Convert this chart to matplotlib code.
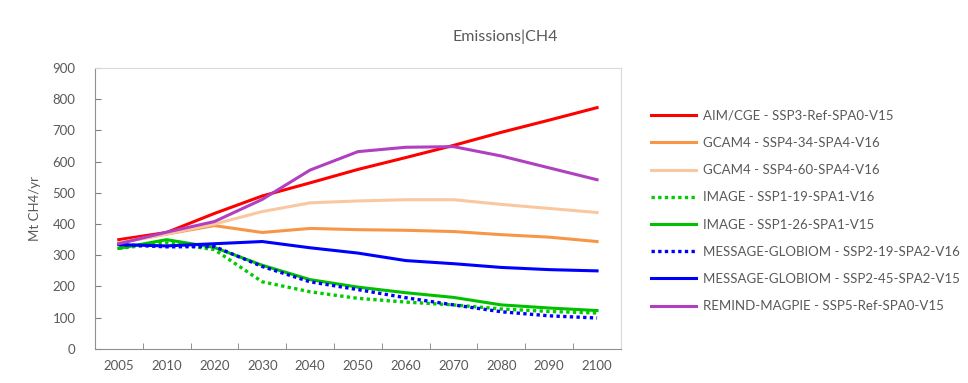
import numpy as np
import matplotlib.pyplot as plt

plt.rcParams['font.family'] = ['Lato', 'DejaVu Sans']

# 年份（类别轴）
years = ['2005', '2010', '2020', '2030', '2040', '2050', '2060', '2070', '2080', '2090', '2100']

aim_ssp3 = [350, 373, 434, 490, 532, 575, 613, 652, 694, 733, 773]
gcam_ssp4_34 = [340, 368, 395, 373, 386, 382, 380, 376, 366, 358, 344]
gcam_ssp4_60 = [340, 368, 400, 440, 468, 474, 478, 478, 463, 450, 437]
image_ssp1_19 = [322, 340, 318, 215, 183, 162, 150, 141, 128, 120, 115]
image_ssp1_26 = [322, 350, 325, 268, 222, 198, 180, 165, 141, 131, 123]
message_ssp2_19 = [334, 327, 328, 264, 215, 190, 164, 141, 119, 106, 99]
message_ssp2_45 = [334, 330, 337, 344, 324, 307, 283, 273, 261, 254, 250]
remind_ssp5 = [337, 374, 408, 479, 573, 632, 646, 648, 618, 580, 542]

series = [
    ('AIM/CGE - SSP3-Ref-SPA0-V15', aim_ssp3, '#ff0000', '-'),
    ('GCAM4 - SSP4-34-SPA4-V16', gcam_ssp4_34, '#f79646', '-'),
    ('GCAM4 - SSP4-60-SPA4-V16', gcam_ssp4_60, '#fac8a0', '-'),
    ('IMAGE - SSP1-19-SPA1-V16', image_ssp1_19, '#00cc00', ':'),
    ('IMAGE - SSP1-26-SPA1-V15', image_ssp1_26, '#00c000', '-'),
    ('MESSAGE-GLOBIOM - SSP2-19-SPA2-V16', message_ssp2_19, '#0000ff', ':'),
    ('MESSAGE-GLOBIOM - SSP2-45-SPA2-V15', message_ssp2_45, '#0000ff', '-'),
    ('REMIND-MAGPIE - SSP5-Ref-SPA0-V15', remind_ssp5, '#b040c0', '-'),
]

txt = '#595959'
fig = plt.figure(figsize=(9.68, 3.83), dpi=100)
ax = fig.add_axes([0.098, 0.089, 0.5435, 0.7335])

x = np.arange(len(years))
for label, vals, col, ls in series:
    if ls == ':':
        ax.plot(x, vals, color=col, lw=2.4, linestyle=(0, (1, 1)),
                dash_capstyle='butt', label=label)
    else:
        ax.plot(x, vals, color=col, lw=2.2, label=label)

ax.set_xlim(-0.5, len(years) - 0.5)
ax.set_ylim(0, 900)
ax.set_yticks(range(0, 901, 100))
ax.set_xticks(x)
ax.set_xticklabels(years)
ax.set_xticks(np.arange(0.5, len(years) - 1, 1), minor=True)
ax.tick_params(axis='x', which='major', length=0, pad=8, labelsize=9.5, labelcolor=txt)
ax.tick_params(axis='x', which='minor', length=4, direction='in', color='#808080')
ax.tick_params(axis='y', length=4, direction='in', color='#808080', pad=14,
               labelsize=9.5, labelcolor=txt)
ax.set_ylabel('Mt CH4/yr', color=txt, fontsize=9.5, labelpad=8)

for s in ['left', 'bottom']:
    ax.spines[s].set_color('#909090')
for s in ['top', 'right']:
    ax.spines[s].set_color('#d9d9d9')

fig.text(0.522, 0.903, 'Emissions|CH4', ha='center', va='center', fontsize=11.5, color=txt)

leg = ax.legend(loc='center left', bbox_to_anchor=(0.66, 0.449),
                bbox_transform=fig.transFigure, frameon=False, fontsize=9.5,
                handlelength=3.4, labelspacing=1.15, handletextpad=0.55)
for t in leg.get_texts():
    t.set_color(txt)

fig.savefig('out.png', dpi=100)
